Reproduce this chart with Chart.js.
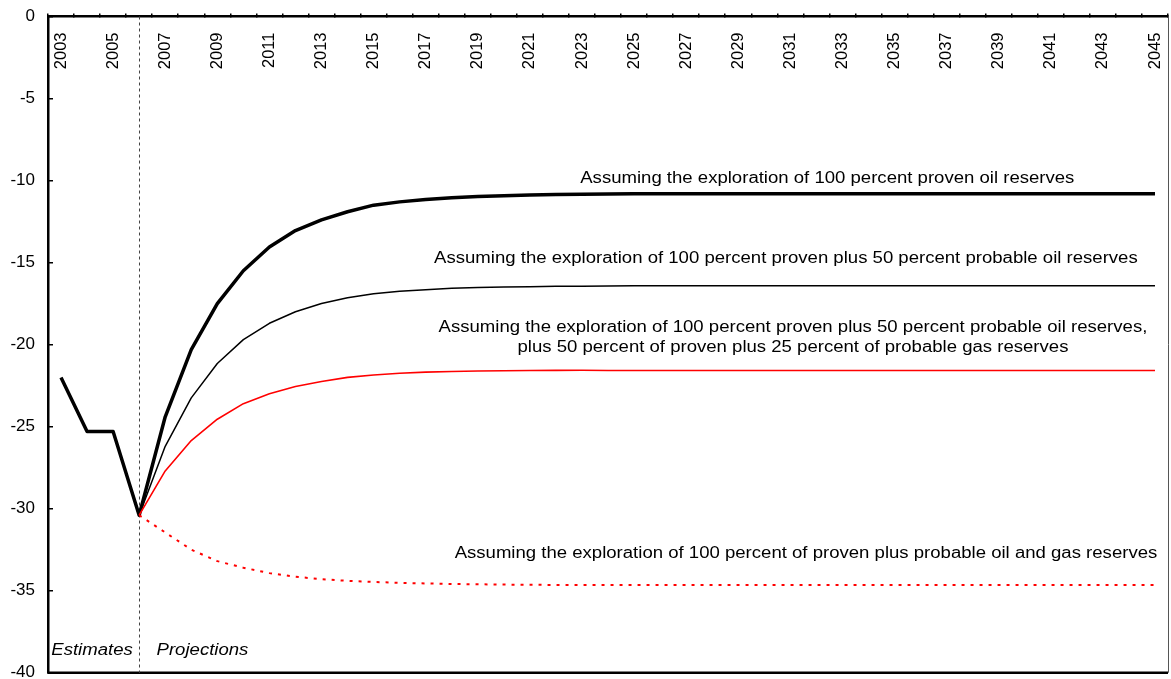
<!DOCTYPE html>
<html>
<head>
<meta charset="utf-8">
<script src="https://cdn.jsdelivr.net/npm/chart.js@4.4.0/dist/chart.umd.min.js"></script>
<style>
  html, body { margin: 0; padding: 0; background: #fff; }
  #wrap { width: 1171px; height: 679px; }
</style>
</head>
<body>
<div id="wrap"><canvas id="chart"></canvas></div>
<script>
// ----------- Data -----------
const years = ["2003","2004","2005","2006","2007","2008","2009","2010","2011","2012",
  "2013","2014","2015","2016","2017","2018","2019","2020","2021","2022",
  "2023","2024","2025","2026","2027","2028","2029","2030","2031","2032",
  "2033","2034","2035","2036","2037","2038","2039","2040","2041","2042",
  "2043","2044","2045"];

// 100 percent proven oil (includes the 2003-2006 estimates)
const provenOil = [-22.0, -25.3, -25.3, -30.4, -24.4, -20.3, -17.5, -15.5, -14.05, -13.05,
  -12.4, -11.9, -11.5, -11.3, -11.15, -11.05, -10.97, -10.92, -10.88, -10.85,
  -10.83, -10.82, -10.81, -10.8, -10.8, -10.8, -10.8, -10.8, -10.8, -10.8,
  -10.8, -10.8, -10.8, -10.8, -10.8, -10.8, -10.8, -10.8, -10.8, -10.8,
  -10.8, -10.8, -10.8];

// 100 percent proven plus 50 percent probable oil
const provenHalfProbable = [null, null, null, -30.4, -26.2, -23.25, -21.15, -19.7, -18.7, -18.0,
  -17.5, -17.15, -16.9, -16.75, -16.65, -16.57, -16.52, -16.49, -16.47, -16.45,
  -16.44, -16.43, -16.42, -16.42, -16.42, -16.42, -16.42, -16.42, -16.42, -16.42,
  -16.42, -16.42, -16.42, -16.42, -16.42, -16.42, -16.42, -16.42, -16.42, -16.42,
  -16.42, -16.42, -16.42];

// ... plus 50 percent proven plus 25 percent probable gas
const withGas = [null, null, null, -30.4, -27.7, -25.85, -24.55, -23.6, -23.0, -22.55,
  -22.25, -22.0, -21.85, -21.75, -21.68, -21.64, -21.61, -21.59, -21.58, -21.57,
  -21.56, -21.58, -21.58, -21.58, -21.58, -21.58, -21.58, -21.58, -21.58, -21.58,
  -21.58, -21.58, -21.58, -21.58, -21.58, -21.58, -21.58, -21.58, -21.58, -21.58,
  -21.58, -21.58, -21.58];

// 100 percent of proven plus probable oil and gas
const allOilGas = [null, null, null, -30.4, -31.45, -32.5, -33.2, -33.6, -33.93, -34.15,
  -34.3, -34.4, -34.47, -34.52, -34.56, -34.59, -34.61, -34.63, -34.64, -34.65,
  -34.66, -34.66, -34.66, -34.66, -34.66, -34.66, -34.66, -34.66, -34.66, -34.66,
  -34.66, -34.66, -34.66, -34.66, -34.66, -34.66, -34.66, -34.66, -34.66, -34.66,
  -34.66, -34.66, -34.66];

const yTicks = [0, -5, -10, -15, -20, -25, -30, -35, -40];
const splitYear = "2006";

// labels: [text lines, x (category index), y (value), italic]
const notes = [
  [["Assuming the exploration of 100 percent proven oil reserves"], 29.42, -9.9, false],
  [["Assuming the exploration of 100 percent proven plus 50 percent probable oil reserves"], 27.83, -14.77, false],
  [["Assuming the exploration of 100 percent proven plus 50 percent probable oil reserves,",
    "plus 50 percent of proven plus 25 percent of probable gas reserves"], 28.1, -18.96, false],
  [["Assuming the exploration of 100 percent of proven plus probable oil and gas reserves"], 28.6, -32.72, false],
  [["Estimates"], 1.19, -38.68, true],
  [["Projections"], 5.43, -38.68, true]
];

const FONT = "Arial, 'Liberation Sans', sans-serif";

// ----------- Extras: frame, split line, notes -----------
const extras = {
  id: "extras",
  beforeDatasetsDraw(chart) {
    const { ctx, chartArea: a, scales: { x } } = chart;
    ctx.save();
    // right + bottom frame
    ctx.strokeStyle = "#555";
    ctx.lineWidth = 1;
    ctx.beginPath();
    ctx.moveTo(a.right + 0.5, a.top);
    ctx.lineTo(a.right + 0.5, a.bottom);
    ctx.stroke();
    ctx.strokeStyle = "#000";
    ctx.lineWidth = 2.5;
    ctx.beginPath();
    ctx.moveTo(a.left, a.bottom);
    ctx.lineTo(a.right, a.bottom);
    ctx.stroke();
    // estimates / projections split
    const sx = Math.round(x.getPixelForValue(years.indexOf(splitYear))) + 0.5;
    ctx.strokeStyle = "#444";
    ctx.lineWidth = 1;
    ctx.setLineDash([3, 3]);
    ctx.beginPath();
    ctx.moveTo(sx, a.top);
    ctx.lineTo(sx, a.bottom);
    ctx.stroke();
    ctx.restore();
  },
  afterDatasetsDraw(chart) {
    const { ctx, scales: { x, y } } = chart;
    ctx.save();
    ctx.fillStyle = "#000";
    ctx.textBaseline = "middle";
    ctx.textAlign = "center";
    notes.forEach(([lines, xi, yv, italic]) => {
      ctx.font = (italic ? "italic " : "") + "16px " + FONT;
      lines.forEach((t, i) => {
        const px = x.getPixelForValue(xi);
        const py = y.getPixelForValue(yv) + i * 20;
        ctx.save();
        ctx.translate(px, py);
        ctx.scale(1.16, 1);
        ctx.fillText(t, 0, 0);
        ctx.restore();
      });
    });
    ctx.restore();
  }
};

// ----------- Chart -----------
const ctx = document.getElementById("chart").getContext("2d");
new Chart(ctx, {
  type: "line",
  data: {
    labels: years,
    datasets: [
      { label: "All oil and gas", data: allOilGas, borderColor: "#ff0000", borderWidth: 2, borderDash: [3, 6] },
      { label: "With gas", data: withGas, borderColor: "#ff0000", borderWidth: 1.6 },
      { label: "Proven plus probable", data: provenHalfProbable, borderColor: "#000", borderWidth: 1.5 },
      { label: "Proven oil", data: provenOil, borderColor: "#000", borderWidth: 3.5 }
    ]
  },
  options: {
    responsive: true,
    maintainAspectRatio: false,
    animation: false,
    layout: { padding: { left: 0, right: 3, top: 16.5, bottom: 6.3 } },
    elements: { point: { radius: 0 }, line: { tension: 0, borderJoinStyle: "round" } },
    plugins: { legend: { display: false }, tooltip: { enabled: false } },
    scales: {
      x: {
        type: "category",
        position: { y: 0 },
        offset: true,
        afterFit: (s) => { s.paddingLeft = 0; s.paddingRight = 0; },
        grid: { offset: true, drawOnChartArea: false, drawTicks: true, tickLength: -4, color: "#000", lineWidth: 1.5 },
        border: { display: true, color: "#000", width: 2.5 },
        ticks: {
          autoSkip: false,
          minRotation: 90,
          maxRotation: 90,
          padding: 20,
          color: "#000",
          font: { family: FONT, size: 16.5 },
          callback: function (v, i) { return i % 2 === 0 ? years[i] : ""; }
        }
      },
      y: {
        min: -40,
        max: 0,
        afterBuildTicks: (s) => { s.ticks = yTicks.map(v => ({ value: v })); },
        afterFit: (s) => { s.width = 48; s.paddingTop = 0; s.paddingBottom = 0; },
        grid: { drawOnChartArea: false, drawTicks: true, tickLength: -5, color: "#000", lineWidth: 1.5 },
        border: { display: true, color: "#000", width: 2.5 },
        ticks: { padding: 18, color: "#000", font: { family: FONT, size: 17 } }
      }
    }
  },
  plugins: [extras]
});
</script>
</body>
</html>
